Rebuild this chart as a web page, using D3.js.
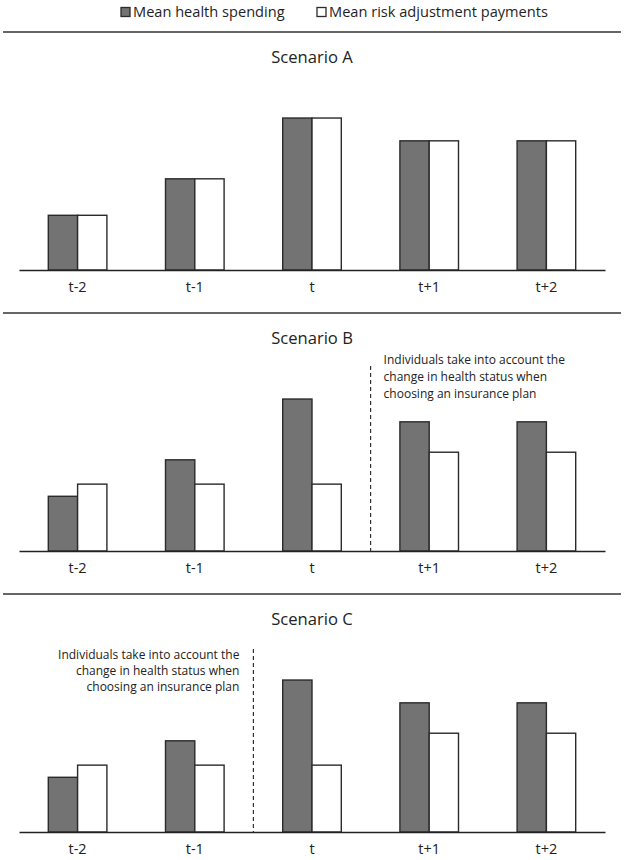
<!DOCTYPE html>
<html>
<head>
<meta charset="utf-8">
<script src="https://cdn.jsdelivr.net/npm/d3@7"></script>
<style>
  html, body { margin: 0; padding: 0; background: #fff; }
  svg { display: block; font-family: "Open Sans", "Noto Sans", sans-serif; }
</style>
</head>
<body>
<div id="chart"></div>
<script>
// ---- data ----
const categories = ["t-2", "t-1", "t", "t+1", "t+2"];
const seriesNames = ["Mean health spending", "Mean risk adjustment payments"];
const scenarioTitles = ["Scenario A", "Scenario B", "Scenario C"];
const spendingA = [1.8, 3.0, 5.0, 4.25, 4.25];
const paymentsA = [1.8, 3.0, 5.0, 4.25, 4.25];
const spendingB = [1.8, 3.0, 5.0, 4.25, 4.25];
const paymentsB = [2.2, 2.2, 2.2, 3.25, 3.25];
const spendingC = [1.8, 3.0, 5.0, 4.25, 4.25];
const paymentsC = [2.2, 2.2, 2.2, 3.25, 3.25];
const noteLines = ["Individuals take into account the", "change in health status when", "choosing an insurance plan"];
// dashed divider placed after this category (null = none)
const dividerAfter = [null, "t", "t-1"];
const noteSide = [null, "right", "left"];

const panels = [
  { title: scenarioTitles[0], spending: spendingA, payments: paymentsA },
  { title: scenarioTitles[1], spending: spendingB, payments: paymentsB },
  { title: scenarioTitles[2], spending: spendingC, payments: paymentsC }
];

// ---- layout ----
const W = 624, H = 860;
const darkFill = "#737373", stroke = "#2b2b2b";
const panelStep = 281;
const firstLine = 32;

const svg = d3.select("#chart").append("svg").attr("width", W).attr("height", H);

// legend
const legend = svg.append("g").attr("class", "legend");
const legendItems = [
  { name: seriesNames[0], fill: darkFill, x: 121 },
  { name: seriesNames[1], fill: "#fff", x: 317 }
];
legendItems.forEach(d => {
  legend.append("rect").attr("x", d.x).attr("y", 7.5).attr("width", 9).attr("height", 9)
    .attr("fill", d.fill).attr("stroke", stroke).attr("stroke-width", 1.3);
  legend.append("text").attr("x", d.x + 12).attr("y", 17)
    .attr("font-size", 14.6).attr("fill", "#1e1e1e").text(d.name);
});

const x = d3.scaleBand().domain(categories).range([19, 605]).paddingInner(0.5).paddingOuter(0.25);
const x1 = d3.scaleBand().domain(["spending", "payments"]).range([0, x.bandwidth()]);

panels.forEach((p, i) => {
  const top = firstLine + i * panelStep;
  const base = 270 + i * panelStep;
  const g = svg.append("g");

  // separator line
  g.append("line").attr("x1", 3).attr("x2", 621).attr("y1", top).attr("y2", top)
    .attr("stroke", "#333").attr("stroke-width", 1.6);

  // title
  g.append("text").attr("x", 312).attr("y", top + 31).attr("text-anchor", "middle")
    .attr("font-size", 16.6).attr("fill", "#222").text(p.title);

  const y = d3.scaleLinear().domain([0, 5.6]).range([base, base - 170.2]);

  const rows = categories.map((c, k) => ({ cat: c, spending: p.spending[k], payments: p.payments[k] }));
  const grp = g.selectAll("g.grp").data(rows).join("g").attr("class", "grp")
    .attr("transform", d => `translate(${x(d.cat)},0)`);
  grp.selectAll("rect").data(d => [
      { key: "spending", v: d.spending },
      { key: "payments", v: d.payments }
    ]).join("rect")
    .attr("x", d => x1(d.key))
    .attr("width", x1.bandwidth())
    .attr("y", d => y(d.v))
    .attr("height", d => base - y(d.v))
    .attr("fill", d => d.key === "spending" ? darkFill : "#fff")
    .attr("stroke", stroke).attr("stroke-width", 1.4);

  // axis
  const axis = g.append("g").attr("transform", `translate(0,${base})`)
    .call(d3.axisBottom(x).tickSize(0).tickSizeOuter(0).tickPadding(12));
  axis.select(".domain").attr("stroke", "#222").attr("stroke-width", 1.5);
  axis.selectAll("text").attr("font-size", 14.5).attr("fill", "#222")
    .attr("font-family", "'Open Sans', sans-serif");

  // divider + note
  if (dividerAfter[i]) {
    const k = categories.indexOf(dividerAfter[i]);
    const xa = x(categories[k]) + x.bandwidth();
    const xb = x(categories[k + 1]);
    const xd = (xa + xb) / 2;
    g.append("line").attr("x1", xd).attr("x2", xd)
      .attr("y1", top + (i === 1 ? 53 : 55)).attr("y2", base)
      .attr("stroke", "#333").attr("stroke-width", 1.2).attr("stroke-dasharray", "4,3");
    const note = g.append("text").attr("font-size", 12).attr("fill", "#222");
    if (noteSide[i] === "right") {
      note.attr("text-anchor", "start");
      noteLines.forEach((t, j) => note.append("tspan").attr("x", xd + 13)
        .attr("y", top + 51 + j * 16.8).text(t));
    } else {
      note.attr("text-anchor", "end");
      noteLines.forEach((t, j) => note.append("tspan").attr("x", xd - 14)
        .attr("y", top + 65 + j * 16).text(t));
    }
  }
});
</script>
</body>
</html>
